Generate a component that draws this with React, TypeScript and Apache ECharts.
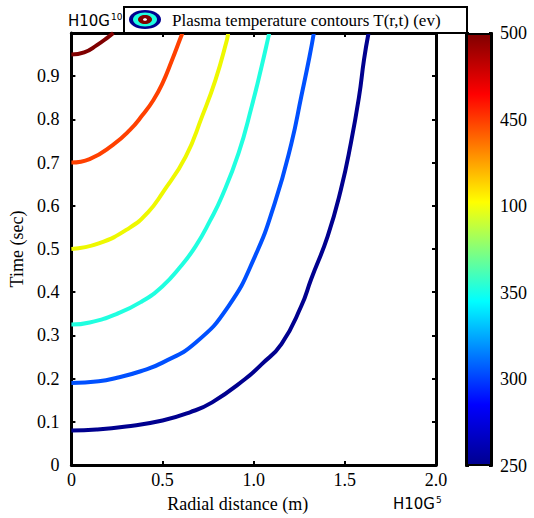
import React, { useEffect, useRef } from "react";
import * as echarts from "echarts";

const contourNames = ["500", "450", "100", "350", "300", "250"];
const contourColors = ["#800000", "#FF4000", "#EEF800", "#20FFE0", "#0050FF", "#00008F"];

const darkRed: number[][] = [[0, 0.95], [0.07, 0.955], [0.14, 0.972], [0.2, 0.99], [0.23, 1.0]];
const orangeRed: number[][] = [[0, 0.7], [0.1, 0.708], [0.228, 0.741], [0.32, 0.775], [0.39, 0.81], [0.45, 0.845], [0.5, 0.884], [0.55, 0.935], [0.6, 0.99], [0.61, 1.0]];
const yellow: number[][] = [[0, 0.5], [0.15, 0.513], [0.319, 0.549], [0.42, 0.585], [0.5, 0.63], [0.627, 0.714], [0.717, 0.807], [0.79, 0.891], [0.853, 0.984], [0.86, 1.0]];
const cyan: number[][] = [[0, 0.325], [0.1, 0.33], [0.25, 0.35], [0.38, 0.377], [0.5, 0.414], [0.6, 0.46], [0.681, 0.506], [0.76, 0.565], [0.826, 0.622], [0.917, 0.722], [0.989, 0.83], [1.043, 0.922], [1.08, 0.99], [1.085, 1.0]];
const blue: number[][] = [[0, 0.19], [0.15, 0.194], [0.25, 0.202], [0.38, 0.217], [0.5, 0.237], [0.681, 0.283], [0.862, 0.368], [1.007, 0.483], [1.116, 0.607], [1.207, 0.745], [1.261, 0.853], [1.306, 0.945], [1.33, 1.0]];
const navy: number[][] = [[0, 0.08], [0.138, 0.082], [0.3, 0.089], [0.5, 0.103], [0.65, 0.122], [0.772, 0.145], [0.953, 0.199], [1.043, 0.233], [1.152, 0.28], [1.261, 0.368], [1.315, 0.43], [1.406, 0.53], [1.478, 0.637], [1.533, 0.745], [1.578, 0.853], [1.605, 0.938], [1.63, 1.0]];
const contours = [darkRed, orangeRed, yellow, cyan, blue, navy];

const colorbarLabels = ["250", "300", "350", "100", "450", "500"];
const jetStops: [number, string][] = [[0, "#00008F"], [0.14, "#0000FF"], [0.38, "#00FFFF"], [0.61, "#FFFF00"], [0.86, "#FF0000"], [1, "#800000"]];

const serif = "Liberation Serif";
const sans = "DejaVu Sans";

export default function App() {
  const ref = useRef<HTMLDivElement>(null);
  useEffect(() => {
    if (!ref.current) return;
    const chart = echarts.init(ref.current, null, { renderer: "svg" });
    const fmt = (v: number) => (v === 0 ? "0" : v.toFixed(1));
    const rich = { t: { fontFamily: serif, fontSize: 18, color: "#000" } };
    const lbl = { fontFamily: serif, fontSize: 18, color: "#000", rich };
    const option: any = {
      animation: false,
      backgroundColor: "#fff",
      textStyle: { fontFamily: serif, color: "#000" },
      grid: [
        { left: 68, right: 98, top: 33, bottom: 52, show: false },
        { left: 466, width: 26, top: 33, bottom: 52, show: false },
      ],
      xAxis: [
        {
          type: "value", gridIndex: 0, min: 0, max: 2, interval: 0.5, position: "bottom",
          name: "Radial distance (m)", nameLocation: "middle", nameGap: 30,
          nameTextStyle: { fontFamily: serif, fontSize: 18, color: "#000", padding: [0, 32, 0, 0] },
          axisLine: { show: true, onZero: false, lineStyle: { color: "#000", width: 3 } },
          axisTick: { show: true, inside: true, length: 4, lineStyle: { color: "#000", width: 2 } },
          axisLabel: { ...lbl, margin: 6, formatter: (v: number) => `{t|${fmt(v)}}` },
          splitLine: { show: false },
        },
        {
          type: "value", gridIndex: 0, min: 0, max: 2, interval: 0.5, position: "top",
          axisLine: { show: true, onZero: false, lineStyle: { color: "#000", width: 3 } },
          axisTick: { show: true, inside: true, length: 4, lineStyle: { color: "#000", width: 2 } },
          axisLabel: { show: false }, splitLine: { show: false },
        },
        {
          type: "category", gridIndex: 1, data: ["c"], show: true,
          axisLine: { show: false }, axisTick: { show: false }, axisLabel: { show: false },
        },
      ],
      yAxis: [
        {
          type: "value", gridIndex: 0, min: 0, max: 1, interval: 0.1, position: "left",
          name: "Time (sec)", nameLocation: "middle", nameGap: 44, nameRotate: 90,
          nameTextStyle: { fontFamily: serif, fontSize: 18, color: "#000" },
          axisLine: { show: true, onZero: false, lineStyle: { color: "#000", width: 3 } },
          axisTick: { show: true, inside: true, length: 4, lineStyle: { color: "#000", width: 2 } },
          axisLabel: { ...lbl, margin: 12, formatter: (v: number) => (v >= 0.99 ? "" : `{t|${fmt(v)}}`) },
          splitLine: { show: false },
        },
        {
          type: "value", gridIndex: 0, min: 0, max: 1, interval: 0.1, position: "right",
          axisLine: { show: true, onZero: false, lineStyle: { color: "#000", width: 3 } },
          axisTick: { show: true, inside: true, length: 4, lineStyle: { color: "#000", width: 2 } },
          axisLabel: { show: false }, splitLine: { show: false },
        },
        {
          type: "value", gridIndex: 1, min: 0, max: 5, interval: 1, position: "right",
          axisLine: { show: true, onZero: false, lineStyle: { color: "#000", width: 2 } },
          axisTick: { show: true, inside: true, length: 3, lineStyle: { color: "#000", width: 2 } },
          axisLabel: { ...lbl, margin: 8, formatter: (_v: number, i: number) => `{t|${colorbarLabels[i] ?? ""}}` },
          splitLine: { show: false },
        },
        {
          type: "value", gridIndex: 1, min: 0, max: 5, interval: 1, position: "left",
          axisLine: { show: true, onZero: false, lineStyle: { color: "#000", width: 2 } },
          axisTick: { show: true, inside: true, length: 3, lineStyle: { color: "#000", width: 2 } },
          axisLabel: { show: false }, splitLine: { show: false },
        },
      ],
      series: [
        {
          type: "bar", xAxisIndex: 2, yAxisIndex: 2, data: [5], barWidth: "100%", z: 1,
          itemStyle: {
            color: new echarts.graphic.LinearGradient(0, 1, 0, 0, jetStops.map(([o, c]) => ({ offset: o, color: c }))),
            borderColor: "#000", borderWidth: 2,
          },
          silent: true,
        },
        ...contours.map((d, i) => ({
          type: "line", name: contourNames[i], xAxisIndex: 0, yAxisIndex: 0, data: d,
          smooth: 0.5, symbol: "none", clip: true, z: 3,
          lineStyle: { color: contourColors[i], width: 4 },
        })),
      ],
      graphic: [
        {
          type: "text", left: 68, top: 12,
          style: {
            text: "{b|H10G}{s|10}", fill: "#000",
            rich: {
              b: { fontFamily: sans, fontSize: 15, fill: "#000" },
              s: { fontFamily: sans, fontSize: 9, fill: "#000", verticalAlign: "top", padding: [0, 0, 8, 1] },
            },
          },
          z: 10,
        },
        {
          type: "text", left: 393, top: 495,
          style: {
            text: "{b|H10G}{s|5}", fill: "#000",
            rich: {
              b: { fontFamily: sans, fontSize: 15, fill: "#000" },
              s: { fontFamily: sans, fontSize: 9, fill: "#000", verticalAlign: "top", padding: [0, 0, 8, 1] },
            },
          },
          z: 10,
        },
        {
          type: "group", z: 20,
          children: [
            { type: "rect", shape: { x: 124, y: 7, width: 343, height: 26 }, style: { fill: "#fff", stroke: "#000", lineWidth: 2 }, z: 20 },
            { type: "ellipse", shape: { cx: 145, cy: 19.5, rx: 16, ry: 9.5 }, style: { fill: "#00008F" }, z: 21 },
            { type: "ellipse", shape: { cx: 145, cy: 19.5, rx: 12, ry: 7 }, style: { fill: "#20FFE0" }, z: 22 },
            { type: "ellipse", shape: { cx: 145, cy: 19.5, rx: 7, ry: 4.5 }, style: { fill: "#800000" }, z: 23 },
            { type: "ellipse", shape: { cx: 145, cy: 19.5, rx: 2, ry: 1.3 }, style: { fill: "#fff" }, z: 24 },
            { type: "text", x: 172, y: 20, style: { text: "Plasma temperature contours T(r,t) (ev)", fontFamily: serif, fontSize: 17, fill: "#000", verticalAlign: "middle" }, z: 25 },
          ],
        },
      ],
    };
    chart.setOption(option);
    return () => chart.dispose();
  }, []);
  return <div ref={ref} style={{ width: 534, height: 518, position: "absolute", left: 0, top: 0 }} />;
}
